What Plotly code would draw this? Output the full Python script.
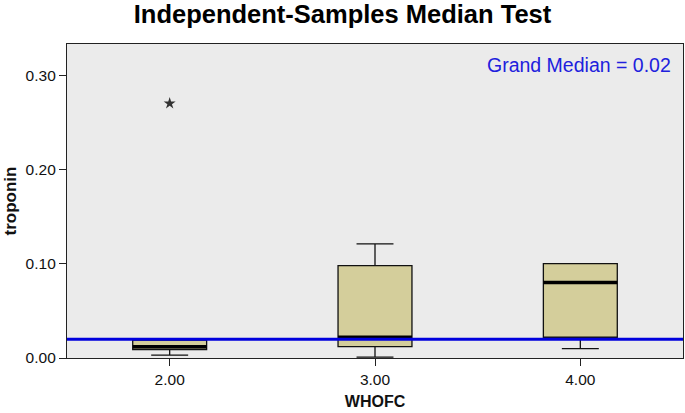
import plotly.graph_objects as go

categories = [2, 3, 4]
tick_labels = ["2.00", "3.00", "4.00"]
q1 = [0.009, 0.012, 0.022]
median = [0.012, 0.022, 0.080]
q3 = [0.019, 0.098, 0.100]
lower_fence = [0.003, 0.001, 0.010]
upper_fence = [0.019, 0.121, 0.100]
outlier_x = [2]
outlier_y = [0.27]
grand_median = 0.02
y_ticks = [0.0, 0.1, 0.2, 0.3]
y_tick_labels = ["0.00", "0.10", "0.20", "0.30"]

box_w = 0.36
font = "Liberation Sans, Arial, sans-serif"

fig = go.Figure()
fig.add_trace(go.Box(
    x=categories, q1=q1, median=median, q3=q3,
    lowerfence=lower_fence, upperfence=upper_fence,
    width=box_w, whiskerwidth=0.5, boxpoints=False,
    fillcolor="#D4CE9B", line=dict(color="#111111", width=1.3),
    showlegend=False, hoverinfo="skip",
))
# thick median lines
mx, my = [], []
for c, m in zip(categories, median):
    mx += [c - box_w / 2, c + box_w / 2, None]
    my += [m, m, None]
fig.add_trace(go.Scatter(x=mx, y=my, mode="lines",
                         line=dict(color="#000000", width=3.5),
                         showlegend=False, hoverinfo="skip"))
fig.add_trace(go.Scatter(x=outlier_x, y=outlier_y, mode="markers",
                         marker=dict(symbol="star", size=9, color="#333333"),
                         showlegend=False, hoverinfo="skip"))
fig.add_hline(y=grand_median, line=dict(color="#0000DD", width=3), layer="above")
fig.add_annotation(x=1, xref="paper", xanchor="right", xshift=-10,
                   y=1, yref="paper", yanchor="top", yshift=-8,
                   text=f"Grand Median = {grand_median:.2f}", showarrow=False,
                   font=dict(family=font, size=19.5, color="#2020DD"))

fig.update_layout(
    width=685, height=413,
    margin=dict(l=67, r=2, t=44, b=55),
    paper_bgcolor="white", plot_bgcolor="#EBEBEB",
    title=dict(text="<b>Independent-Samples Median Test</b>", x=0.5, xanchor="center",
               y=1 - 14 / 413, yanchor="middle", font=dict(family=font, size=25.5, color="#000000")),
    font=dict(family=font, size=15, color="#111111"),
)
fig.update_xaxes(range=[1.5, 4.5], tickvals=categories, ticktext=tick_labels,
                 showgrid=False, zeroline=False, showline=True, linecolor="#222222",
                 linewidth=1.3, mirror=True, ticks="outside", ticklen=7, tickcolor="#222222",
                 tickfont=dict(size=15.5),
                 title=dict(text="<b>WHOFC</b>", font=dict(family=font, size=16), standoff=9))
fig.update_yaxes(range=[0, 0.333], tickvals=y_ticks, ticktext=y_tick_labels,
                 showgrid=False, zeroline=False, showline=True, linecolor="#222222",
                 linewidth=1.3, mirror=True, ticks="outside", ticklen=7, tickcolor="#222222",
                 tickfont=dict(size=15.5),
                 title=dict(text="<b>troponin</b>", font=dict(family=font, size=17), standoff=4))

fig.write_html("out.html", config={"displayModeBar": False},
               post_script="document.body.style.margin='0';document.body.style.padding='0';")
